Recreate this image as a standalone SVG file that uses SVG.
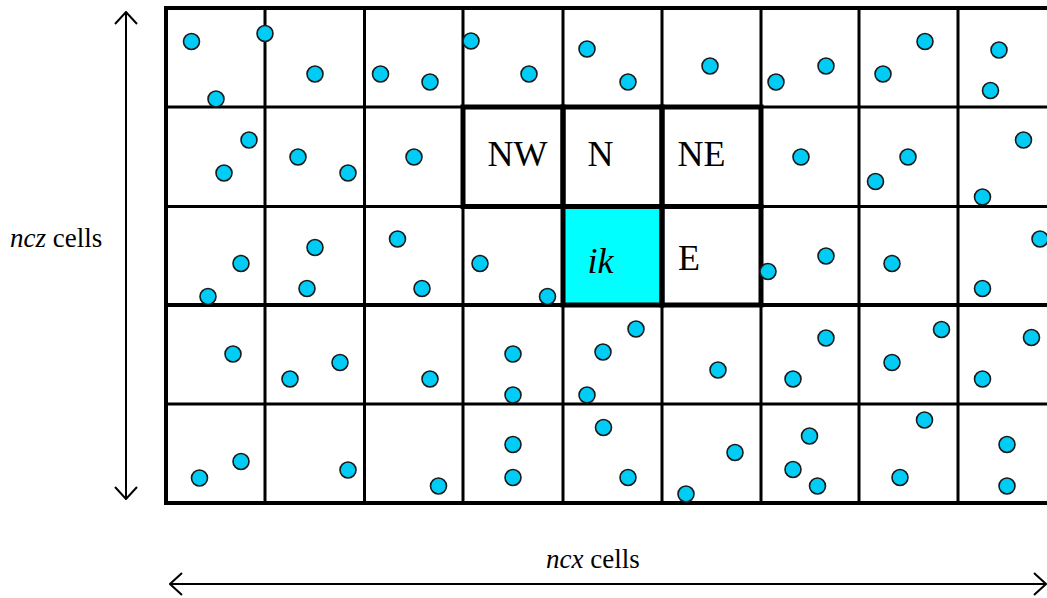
<svg xmlns="http://www.w3.org/2000/svg" width="1047" height="598" viewBox="0 0 1047 598">
<style>
.g{stroke:#000;stroke-width:3;fill:none}
.go{stroke:#000;stroke-width:4;fill:none}
.hl{stroke:#000;stroke-width:5;fill:none}
.hlf{stroke:#000;stroke-width:5;fill:#00FFFF}
.d{fill:#00CCF5;stroke:#1a1a1a;stroke-width:1.6}
.t{font-family:"Liberation Serif","Times New Roman",serif;fill:#000}
.big{font-size:36px}
.lab{font-size:27px}
.ar{stroke:#000;stroke-width:2;fill:none}
</style>
<defs>
<marker id="chev" viewBox="0 0 14 24" refX="13" refY="12" markerWidth="14" markerHeight="24" markerUnits="userSpaceOnUse" orient="auto">
<path d="M1,1 L13,12 L1,23" fill="none" stroke="#000" stroke-width="2"/>
</marker>
</defs>
<rect width="1047" height="598" fill="#fff"/>
<g id="grid">
<path class="g" d="M265,8V503M364.5,8V503M463,8V503M563,8V503M662,8V503M761,8V503M859,8V503M958,8V503M166,107H1047M166,206.5H1047M166,404H1047"/>
<path class="go" d="M166,305H1047M1047,8H166V503H1047"/>
</g>
<g id="cell-ik">
<rect class="hlf" x="563" y="206.5" width="99" height="98.5"/>
<text class="t big" x="600.5" y="273" text-anchor="middle" font-style="italic">ik</text>
</g>
<g id="cell-NW">
<rect class="hl" x="463" y="107" width="100" height="99.5"/>
<text class="t big" x="517.5" y="166" text-anchor="middle">NW</text>
</g>
<g id="cell-N">
<rect class="hl" x="563" y="107" width="99" height="99.5"/>
<text class="t big" x="600.5" y="166" text-anchor="middle">N</text>
</g>
<g id="cell-NE">
<rect class="hl" x="662" y="107" width="99" height="99.5"/>
<text class="t big" x="701.5" y="166" text-anchor="middle">NE</text>
</g>
<g id="cell-E">
<rect class="hl" x="662" y="206.5" width="99" height="98.5"/>
<text class="t big" x="678" y="270">E</text>
</g>
<g id="particles">
<circle class="d" r="8" cx="191.5" cy="41.5"/><circle class="d" r="8" cx="265" cy="33.5"/><circle class="d" r="8" cx="216" cy="99"/><circle class="d" r="8" cx="315" cy="74"/><circle class="d" r="8" cx="380.5" cy="74"/><circle class="d" r="8" cx="430" cy="82"/><circle class="d" r="8" cx="471" cy="41"/><circle class="d" r="8" cx="529" cy="74"/><circle class="d" r="8" cx="587" cy="49"/><circle class="d" r="8" cx="628" cy="82"/><circle class="d" r="8" cx="710" cy="66"/><circle class="d" r="8" cx="776" cy="82"/><circle class="d" r="8" cx="826" cy="66"/><circle class="d" r="8" cx="883" cy="74"/><circle class="d" r="8" cx="925" cy="41.5"/><circle class="d" r="8" cx="999" cy="50"/><circle class="d" r="8" cx="990.5" cy="90.5"/>
<circle class="d" r="8" cx="249" cy="140"/><circle class="d" r="8" cx="224" cy="173"/><circle class="d" r="8" cx="298" cy="157"/><circle class="d" r="8" cx="348" cy="173"/><circle class="d" r="8" cx="414" cy="157"/><circle class="d" r="8" cx="801" cy="157"/><circle class="d" r="8" cx="908" cy="157"/><circle class="d" r="8" cx="875.5" cy="181.5"/><circle class="d" r="8" cx="1023.5" cy="140"/><circle class="d" r="8" cx="982.5" cy="197"/>
<circle class="d" r="8" cx="241" cy="263.5"/><circle class="d" r="8" cx="208" cy="296.5"/><circle class="d" r="8" cx="315" cy="247.5"/><circle class="d" r="8" cx="307" cy="288.5"/><circle class="d" r="8" cx="397.5" cy="239"/><circle class="d" r="8" cx="422" cy="288.5"/><circle class="d" r="8" cx="480" cy="263.5"/><circle class="d" r="8" cx="547.5" cy="296.5"/><circle class="d" r="8" cx="768" cy="271.5"/><circle class="d" r="8" cx="826" cy="256"/><circle class="d" r="8" cx="892" cy="263.5"/><circle class="d" r="8" cx="982.5" cy="288.5"/><circle class="d" r="8" cx="1040" cy="239"/>
<circle class="d" r="8" cx="233" cy="354"/><circle class="d" r="8" cx="290" cy="379"/><circle class="d" r="8" cx="340" cy="362.5"/><circle class="d" r="8" cx="430" cy="379"/><circle class="d" r="8" cx="513" cy="354"/><circle class="d" r="8" cx="513" cy="395"/><circle class="d" r="8" cx="603" cy="352"/><circle class="d" r="8" cx="636" cy="329"/><circle class="d" r="8" cx="587" cy="395"/><circle class="d" r="8" cx="718" cy="370"/><circle class="d" r="8" cx="826" cy="338"/><circle class="d" r="8" cx="793" cy="379"/><circle class="d" r="8" cx="892" cy="362.5"/><circle class="d" r="8" cx="941.5" cy="329.5"/><circle class="d" r="8" cx="982.5" cy="379"/><circle class="d" r="8" cx="1031.5" cy="337.5"/>
<circle class="d" r="8" cx="199.5" cy="478"/><circle class="d" r="8" cx="241" cy="461.5"/><circle class="d" r="8" cx="348" cy="470"/><circle class="d" r="8" cx="438.5" cy="486"/><circle class="d" r="8" cx="513" cy="444.5"/><circle class="d" r="8" cx="513" cy="477.5"/><circle class="d" r="8" cx="603.5" cy="427.5"/><circle class="d" r="8" cx="628" cy="477.5"/><circle class="d" r="8" cx="686" cy="494"/><circle class="d" r="8" cx="735" cy="452.5"/><circle class="d" r="8" cx="809.5" cy="436"/><circle class="d" r="8" cx="793" cy="469.5"/><circle class="d" r="8" cx="817.5" cy="486"/><circle class="d" r="8" cx="924.5" cy="420"/><circle class="d" r="8" cx="900" cy="477.5"/><circle class="d" r="8" cx="1007" cy="444.5"/><circle class="d" r="8" cx="1007" cy="486"/>
</g>
<g id="connectors">
<line class="ar" x1="126" y1="255" x2="126" y2="12" marker-end="url(#chev)"/>
<line class="ar" x1="126" y1="255" x2="126" y2="499" marker-end="url(#chev)"/>
<line class="ar" x1="600" y1="584" x2="170" y2="584" marker-end="url(#chev)"/>
<line class="ar" x1="600" y1="584" x2="1046" y2="584" marker-end="url(#chev)"/>
</g>
<g id="labels">
<text class="t lab" x="10" y="247"><tspan font-style="italic">ncz</tspan> cells</text>
<text class="t lab" x="546" y="568"><tspan font-style="italic">ncx</tspan> cells</text>
</g>
</svg>
